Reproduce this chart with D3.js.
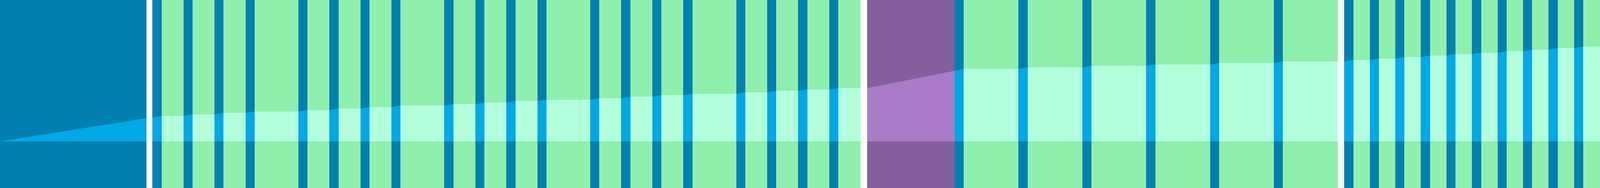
<!DOCTYPE html>
<html>
<head>
<meta charset="utf-8">
<script src="https://cdn.jsdelivr.net/npm/d3@7"></script>
<style>
  html, body { margin: 0; padding: 0; width: 100%; height: 100%; background: #fff; overflow: hidden; }
  svg { display: block; width: 100vw; height: 100vh; }
</style>
</head>
<body>
<svg id="chart"></svg>
<script>
// Band boundaries along the time axis
const edges = [
  0, 402, 418, 443, 503, 528, 588, 613, 673, 698, 818, 843, 903, 928, 988, 1013,
  1073, 1098, 1218, 1243, 1303, 1328, 1388, 1413, 1473, 1498, 1618, 1643, 1703,
  1728, 1788, 1813, 1873, 1898, 2018, 2043, 2103, 2128, 2188, 2213, 2273, 2298,
  2359, 2377, 2617, 2642, 2792, 2817, 2967, 2992, 3142, 3167, 3317, 3342, 3492,
  3517, 3668, 3685, 3710, 3755, 3780, 3825, 3850, 3895, 3920, 3965, 3990, 4035,
  4060, 4105, 4130, 4175, 4200, 4245, 4270, 4315, 4340, 4386
];

// Cumulative level at each boundary
const levels = [
  0, 59.3, 61, 65.3, 65.3, 69, 69, 73, 73, 76.3, 76.3, 80, 80, 84, 84, 88,
  88, 91.7, 91.7, 95.3, 95.3, 99.3, 99.3, 103.3, 103.3, 106.3, 106.3, 110.3, 110.3,
  114.3, 114.3, 118.3, 118.3, 121.3, 121.3, 125.3, 125.3, 129.3, 129.3, 132.7, 132.7, 136,
  136, 136, 180.3, 185, 185, 189, 189, 193, 193, 196.3, 196.3, 200, 200,
  204.3, 204.3, 204.3, 208.3, 208.3, 211.3, 211.3, 215.3, 215.3, 219.3, 219.3, 223, 223,
  226.3, 226.3, 230.3, 230.3, 234, 234, 238, 238, 241.7, 241.7
];

// Kind of each band: c = core block, s = stripe, d = day, p = purple block, g = gap
const kinds = [
  'c', 'g',
  's', 'd', 's', 'd', 's', 'd', 's', 'd', 's', 'd', 's', 'd', 's', 'd', 's', 'd',
  's', 'd', 's', 'd', 's', 'd', 's', 'd', 's', 'd', 's', 'd', 's', 'd', 's', 'd',
  's', 'd', 's', 'd', 's', 'd', 's', 'd',
  'g',
  'p', 's', 'd', 's', 'd', 's', 'd', 's', 'd', 's', 'd', 's', 'd',
  'g',
  's', 'd', 's', 'd', 's', 'd', 's', 'd', 's', 'd', 's', 'd', 's', 'd', 's', 'd',
  's', 'd', 's', 'd'
];

const palette = {
  c: { base: '#0080b0', fill: '#00a8e4' },
  s: { base: '#0080b0', fill: '#00a8e4' },
  d: { base: '#8ff0ad', fill: '#b3ffdc' },
  p: { base: '#855f9b', fill: '#aa7bc8' },
  g: { base: '#ffffff', fill: '#ffffff' }
};

const width = 4386;
const height = 480;
const baseline = 361;

// Drawn in a fixed 4386x480 frame, stretched to fill the window
const svg = d3.select('#chart')
  .attr('viewBox', `0 0 ${width} ${height}`)
  .attr('preserveAspectRatio', 'none');

const x = d3.scaleLinear()
  .domain([d3.min(edges), d3.max(edges)])
  .range([0, width]);

const y = d3.scaleLinear()
  .domain([0, baseline])
  .range([baseline, 0]);

const bands = kinds.map((k, i) => ({ kind: k, x0: edges[i], x1: edges[i + 1] }));
const points = edges.map((e, i) => ({ t: e, v: levels[i] }));

// The level area is used as a clip for the lighter band fills
const area = d3.area()
  .x((d) => x(d.t))
  .y0(y(0))
  .y1((d) => y(d.v));

svg.append('defs')
  .append('clipPath')
  .attr('id', 'level-clip')
  .append('path')
  .attr('d', area(points));

// Base bands, full height
svg.append('g')
  .attr('class', 'bands')
  .selectAll('rect')
  .data(bands)
  .join('rect')
  .attr('x', (d) => x(d.x0))
  .attr('y', 0)
  .attr('width', (d) => x(d.x1) - x(d.x0))
  .attr('height', height)
  .style('fill', (d) => palette[d.kind].base)
  .style('shape-rendering', 'crispEdges');

// Lighter fills below the level line
svg.append('g')
  .attr('class', 'levels')
  .attr('clip-path', 'url(#level-clip)')
  .selectAll('rect')
  .data(bands)
  .join('rect')
  .attr('x', (d) => x(d.x0))
  .attr('y', 0)
  .attr('width', (d) => x(d.x1) - x(d.x0))
  .attr('height', baseline)
  .style('fill', (d) => palette[d.kind].fill)
  .style('shape-rendering', 'crispEdges');
</script>
</body>
</html>
